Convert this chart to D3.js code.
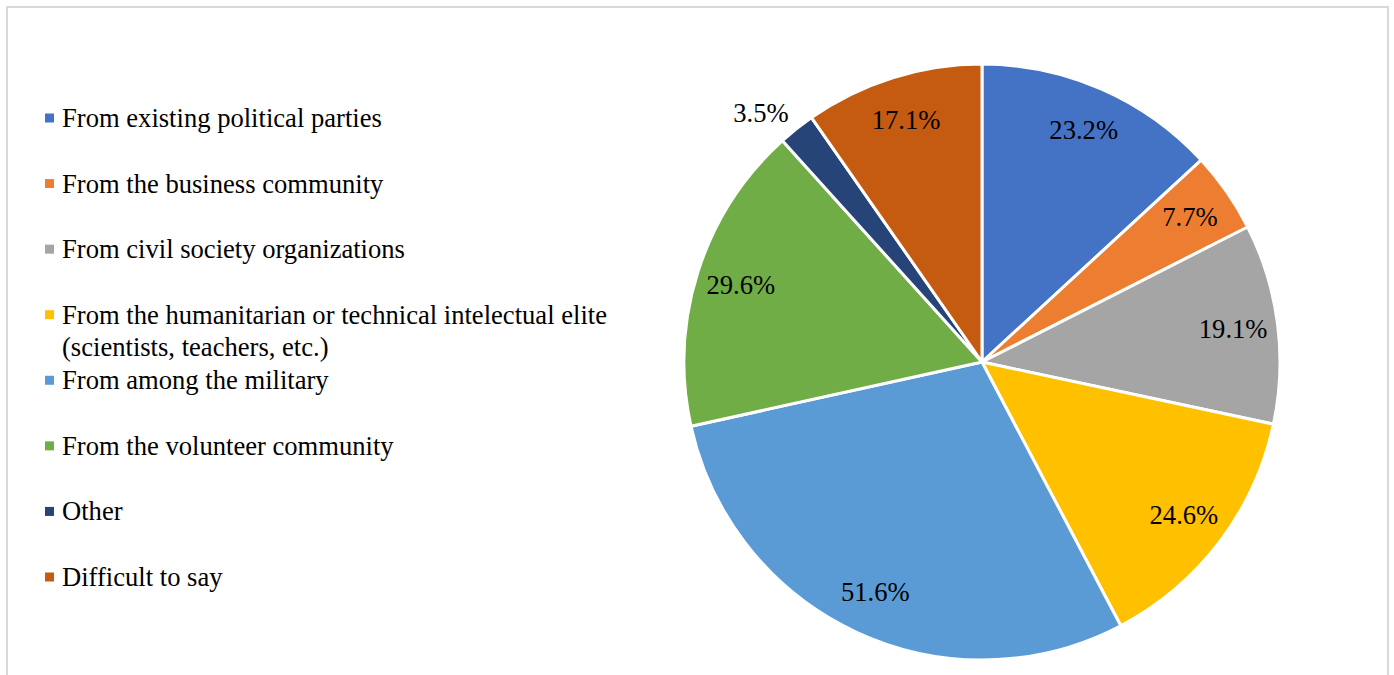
<!DOCTYPE html>
<html><head><meta charset="utf-8">
<script src="https://cdn.jsdelivr.net/npm/d3@7"></script>
<style>html,body{margin:0;padding:0;background:#fff;}svg{display:block;}</style>
</head><body>
<svg id="chart" width="1394" height="675"></svg>
<script>
const categories = [
  "From existing political parties",
  "From the business community",
  "From civil society organizations",
  "From the humanitarian or technical intelectual elite|(scientists, teachers, etc.)",
  "From among the military",
  "From the volunteer community",
  "Other",
  "Difficult to say"
];
const values = [23.2, 7.7, 19.1, 24.6, 51.6, 29.6, 3.5, 17.1];
const colors = ["#4472C4", "#ED7D31", "#A5A5A5", "#FFC000", "#5B9BD5", "#70AD47", "#264478", "#C55A11"];

const svg = d3.select("#chart");
const font = "Liberation Serif, Times New Roman, serif";
const fs = 26.6;

// frame
svg.append("rect").attr("x", 7).attr("y", 7).attr("width", 1381).attr("height", 680)
  .attr("fill", "#fff").attr("stroke", "#d9d9d9").attr("stroke-width", 2);

const cx = 982, cy = 362, R = 298;
const pie = d3.pie().sort(null).value(d => d.v);
const data = values.map((v, i) => ({v, i}));
const arcs = pie(data);
const arc = d3.arc().innerRadius(0).outerRadius(R);

const g = svg.append("g").attr("transform", `translate(${cx},${cy})`);
g.selectAll("path").data(arcs).join("path")
  .attr("d", arc)
  .attr("fill", d => colors[d.data.i])
  .attr("stroke", "#fff").attr("stroke-width", 3).attr("stroke-linejoin", "round");

g.selectAll("text.lbl").data(arcs).join("text")
  .attr("class", "lbl")
  .attr("transform", d => {
    const a = (d.startAngle + d.endAngle) / 2;
    if (d.data.v < 5) {
      return `translate(${Math.sin(a) * R - 8},${-Math.cos(a) * R - 16})`;
    }
    const rr = R * 0.85;
    return `translate(${Math.sin(a) * rr},${-Math.cos(a) * rr})`;
  })
  .attr("text-anchor", d => d.data.v < 5 ? "end" : "middle")
  .attr("dominant-baseline", "central")
  .attr("font-family", font).attr("font-size", fs).attr("fill", "#000")
  .text(d => d.data.v.toFixed(1) + "%");

// legend
const legY = d3.scalePoint().domain(d3.range(categories.length)).range([118, 577]);
const lg = svg.append("g");
categories.forEach((c, i) => {
  const y = legY(i);
  lg.append("rect").attr("x", 45).attr("y", y - 4.5).attr("width", 9).attr("height", 9).attr("fill", colors[i]);
  const t = lg.append("text").attr("x", 62).attr("y", y).attr("dominant-baseline", "central")
    .attr("font-family", font).attr("font-size", fs).attr("fill", "#000");
  c.split("|").forEach((line, k) => {
    t.append("tspan").attr("x", 62).attr("dy", k === 0 ? 0 : 32).text(line);
  });
});
</script>
</body></html>
